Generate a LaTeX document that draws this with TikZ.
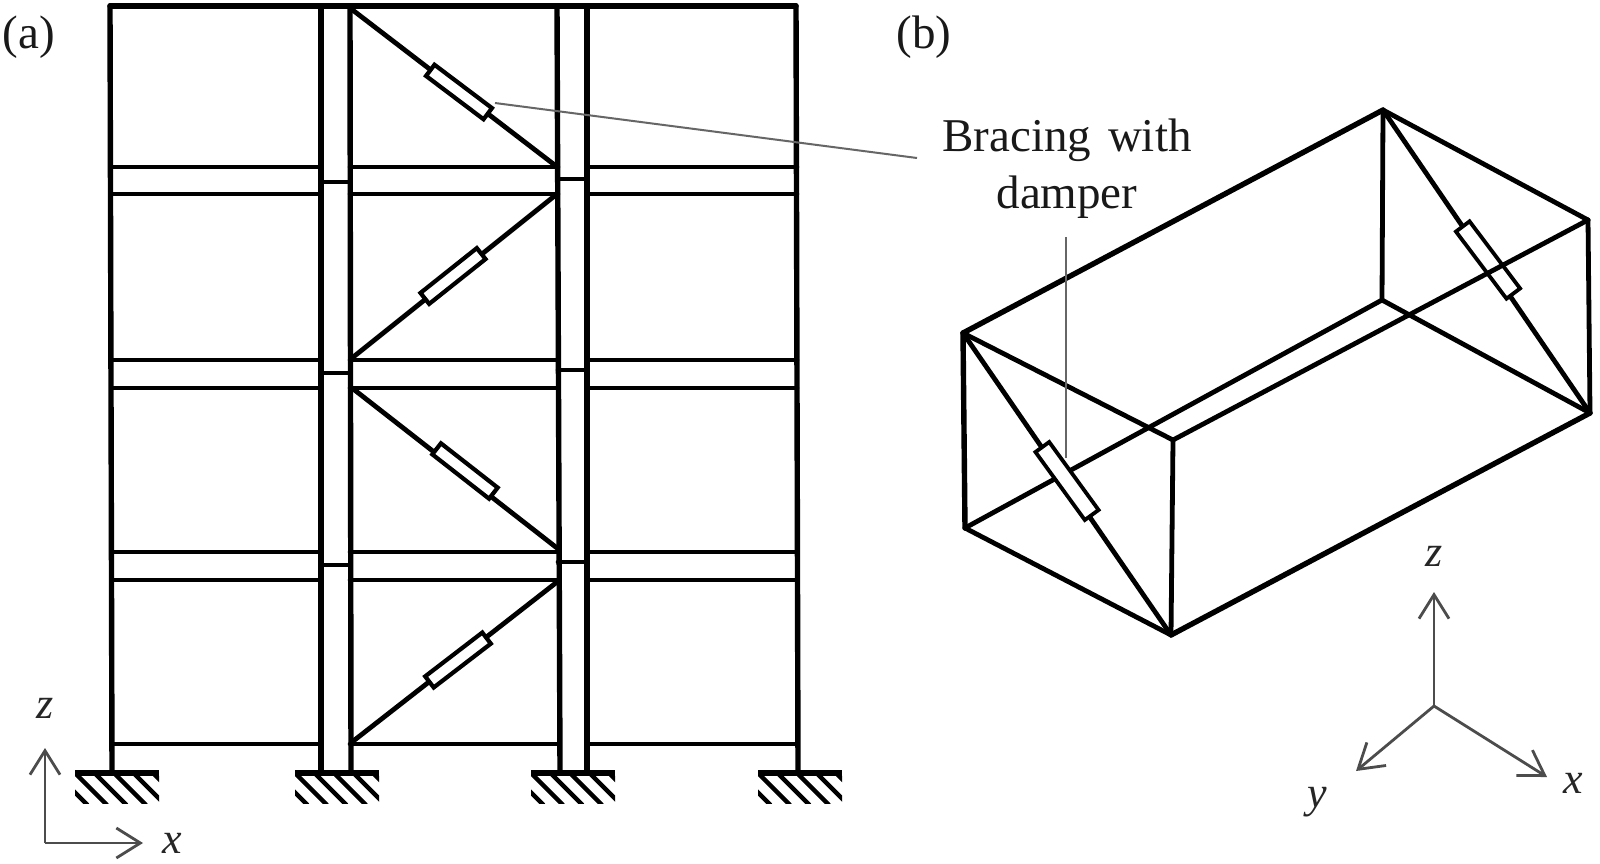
\documentclass[tikz,border=0pt]{standalone}
\usepackage{fontspec}
\setmainfont{Liberation Serif}
\usetikzlibrary{arrows.meta}
\tikzset{
  frame/.style={line width=5.4pt,line cap=round,black},
  thin beam/.style={line width=4.6pt,line cap=round,black},
  brace/.style={line width=4.8pt,line cap=round,black},
  damper/.style={draw=black,fill=white,line width=4.2pt,rectangle,inner sep=0pt,minimum width=72pt,minimum height=14pt},
  leader/.style={line width=2pt,black!60},
  axis/.style={line width=2.8pt,black!70,-{Straight Barb[length=24pt,width=30pt,line width=2.8pt]}},
  lab/.style={font=\fontsize{47}{50}\selectfont,inner sep=0pt,text=black!90},
  axlab/.style={font=\fontsize{44}{48}\selectfont\itshape,inner sep=0pt,text=black!85},
}
\begin{document}
\begin{tikzpicture}[x=1pt,y=-1pt]
\useasboundingbox (0,0) rectangle (1600,863);
\fill[white] (0,0) rectangle (1600,863);

% ---- frame (a): named points
\foreach \n/\x/\y in {
  TA/110/6,TB/796/6,BA/112/771,BB/798/771,
  CbT/321/6,CbB/321/771,CcT/350/6,CcB/351/771,
  CdT/557/6,CdB/560/771,CeT/587/6,CeB/587/771}
  \coordinate (\n) at (\x,\y);

\draw[frame] (TA) -- (TB);
\draw[frame] (TA) -- (BA);
\draw[frame] (TB) -- (BB);
\draw[frame] (CbT) -- (CbB);
\draw[frame] (CcT) -- (CcB);
\draw[frame] (CdT) -- (CdB);
\draw[frame] (CeT) -- (CeB);

% beams between columns
\foreach \y in {167,194,360,388,552,580}{
  \draw[thin beam] (112,\y) -- (321,\y);
  \draw[thin beam] (350,\y) -- (558,\y);
  \draw[thin beam] (587,\y) -- (797,\y);
}
\draw[thin beam] (112,744) -- (321,744);
\draw[thin beam] (350,744) -- (558,744);
\draw[thin beam] (587,744) -- (797,744);
% column ties
\foreach \y in {182,373,565}{\draw[thin beam] (321,\y) -- (350,\y);}
\foreach \y in {179,370,562}{\draw[thin beam] (558,\y) -- (587,\y);}

% braces with dampers
\coordinate (b1a) at (350,8);   \coordinate (b1b) at (556,166);
\coordinate (b2a) at (352,358); \coordinate (b2b) at (557,194);
\coordinate (b3a) at (352,388); \coordinate (b3b) at (557,548);
\coordinate (b4a) at (352,742); \coordinate (b4b) at (557,582);
\draw[brace] (b1a) -- (b1b);
\draw[brace] (b2a) -- (b2b);
\draw[brace] (b3a) -- (b3b);
\draw[brace] (b4a) -- (b4b);
\node[damper,rotate=-37] (d1) at (459,92) {};
\node[damper,rotate=38.5] (d2) at (453,276) {};
\node[damper,rotate=-38] (d3) at (465,471) {};
\node[damper,rotate=37.5] (d4) at (458,660) {};

% supports
\foreach \gx/\gn in {75/ga,295/gb,531/gc,758/gd}{
  \begin{scope}
    \clip (\gx,775) rectangle ++(84,28);
    \foreach \k in {-1,...,4}{
      \draw[line width=4.4pt,black] (\gx+\k*19.5,773) -- ++(32,32);
    }
  \end{scope}
  \draw[line width=5.4pt,black] (\gx,773) -- ++(84,0);
}

% axes (a)
\coordinate (oa) at (45,843);
\coordinate (oaz) at (45,748);
\coordinate (oax) at (143,843);
\draw[axis] (oa) -- (oaz);
\draw[axis] (oa) -- (oax);
\node[axlab] (za) at (45,708) {z};
\node[axlab] (xa) at (172,843) {x};

% labels
\node[lab] (la) at (29,37) {(a)};
\node[lab] (lb) at (924,37) {(b)};
\node[lab] (lt1) at (1067,140) {Bracing\hspace{5pt} with};
\node[lab] (lt2) at (1067,197) {damper};

% box (b)
\foreach \n/\x/\y in {
  A/963/333,B/1173/440,C/965/528,D/1171/635,
  E/1383/110,F/1588/220,G/1382/300,H/1590/413}
  \coordinate (\n) at (\x,\y);
\draw[brace] (C) -- (G);
\draw[frame] (A) -- (E);
\draw[brace] (A) -- (B);
\draw[brace] (E) -- (F);
\draw[brace] (G) -- (H);
\draw[frame] (A) -- (C);
\draw[brace] (C) -- (D);
\draw[brace] (B) -- (D);
\draw[brace] (E) -- (G);
\draw[brace] (F) -- (H);
\draw[frame] (D) -- (H);
\draw[brace] (A) -- (D);
\draw[brace] (E) -- (H);
\node[damper,rotate=-54,minimum width=84pt,minimum height=17pt,line width=3.8pt] (d5) at (1067,481) {};
\node[damper,rotate=-53,minimum width=84pt,minimum height=17pt,line width=3.8pt] (d6) at (1488,260) {};
\draw[brace] (B) -- (F);

% leaders
\coordinate (l1a) at (495,103); \coordinate (l1b) at (917,158);
\coordinate (l2a) at (1066,237); \coordinate (l2b) at (1066,458);
\draw[leader] (l1a) -- (l1b);
\draw[leader] (l2a) -- (l2b);

% axes (b)
\coordinate (ob) at (1434,706);
\coordinate (obz) at (1434,592);
\coordinate (oby) at (1356,771);
\coordinate (obx) at (1547,777);
\draw[axis] (ob) -- (obz);
\draw[axis] (ob) -- (oby);
\draw[axis] (ob) -- (obx);
\node[axlab] (zb) at (1434,556) {z};
\node[axlab] (xb) at (1573,783) {x};
\node[axlab] (yb) at (1317,802) {y};
\end{tikzpicture}
\end{document}
